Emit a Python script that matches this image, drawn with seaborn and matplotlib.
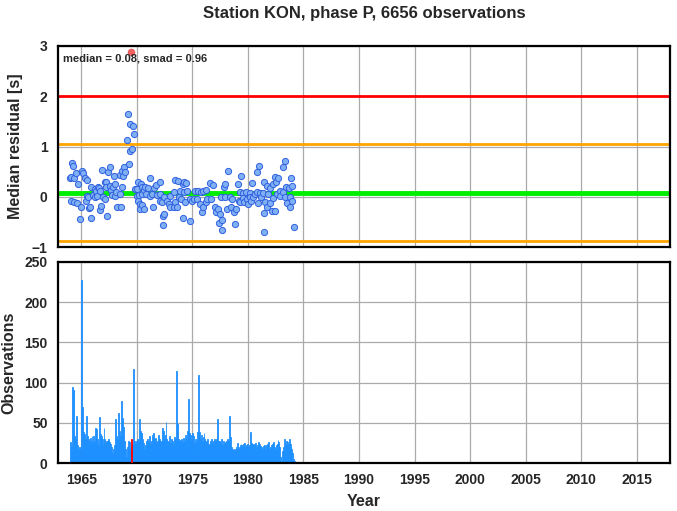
import numpy as np
import pandas as pd
import seaborn as sns
import matplotlib.pyplot as plt

# monthly observation counts, Jan 1964 .. Mar 1984
counts_1964 = [26, 20, 94, 91, 33, 30, 58, 22, 18, 15, 20, 17]
counts_1965 = [228, 70, 38, 36, 30, 59, 33, 30, 28, 31, 25, 33]
counts_1966 = [28, 34, 26, 44, 42, 30, 22, 57, 36, 33, 30, 24]
counts_1967 = [44, 30, 25, 28, 27, 30, 26, 24, 20, 13, 18, 22]
counts_1968 = [55, 33, 28, 30, 62, 40, 34, 77, 56, 45, 27, 18]
counts_1969 = [8, 20, 28, 25, 26, 18, 30, 22, 117, 27, 24, 27]
counts_1970 = [30, 26, 55, 40, 37, 37, 30, 25, 17, 22, 28, 30]
counts_1971 = [26, 33, 24, 28, 35, 37, 20, 30, 31, 25, 28, 35]
counts_1972 = [30, 26, 28, 44, 40, 30, 35, 51, 30, 28, 26, 33]
counts_1973 = [25, 30, 28, 24, 32, 30, 114, 49, 30, 28, 27, 29]
counts_1974 = [30, 26, 31, 28, 35, 30, 40, 79, 37, 35, 30, 28]
counts_1975 = [37, 33, 25, 30, 28, 38, 110, 38, 30, 35, 28, 32]
counts_1976 = [37, 30, 28, 26, 30, 24, 23, 28, 30, 25, 27, 30]
counts_1977 = [28, 26, 30, 55, 28, 27, 25, 30, 22, 27, 24, 26]
counts_1978 = [28, 30, 27, 25, 59, 32, 20, 16, 18, 15, 17, 20]
counts_1979 = [25, 18, 20, 22, 24, 20, 22, 24, 25, 20, 22, 24]
counts_1980 = [20, 22, 39, 25, 24, 22, 20, 24, 25, 20, 22, 26]
counts_1981 = [24, 21, 20, 18, 21, 22, 16, 20, 22, 24, 26, 18]
counts_1982 = [20, 22, 24, 26, 20, 18, 22, 24, 29, 26, 20, 8]
counts_1983 = [0, 15, 20, 30, 22, 28, 26, 24, 30, 24, 15, 18]
counts_1984 = [12, 5, 3]

counts = (counts_1964 + counts_1965 + counts_1966 + counts_1967 + counts_1968 + counts_1969
          + counts_1970 + counts_1971 + counts_1972 + counts_1973 + counts_1974 + counts_1975
          + counts_1976 + counts_1977 + counts_1978 + counts_1979 + counts_1980 + counts_1981
          + counts_1982 + counts_1983 + counts_1984)
month_start = 1964 + np.arange(len(counts)) / 12.0
red_month = 1969.5

# median residuals
res_year = [1963.95, 1964.04, 1964.10, 1964.19, 1964.25, 1964.30, 1964.37, 1964.49, 1964.60, 1964.73,
            1964.85, 1965.00, 1965.03, 1965.15, 1965.36, 1965.45, 1965.48, 1965.54, 1965.60, 1965.70,
            1965.80, 1965.87, 1965.90, 1966.05, 1966.20, 1966.22, 1966.35, 1966.40, 1966.50, 1966.60,
            1966.65, 1966.70, 1966.80, 1966.90, 1966.95, 1967.10, 1967.13, 1967.20, 1967.25, 1967.30,
            1967.40, 1967.55, 1967.60, 1967.70, 1967.72, 1967.85, 1967.95, 1968.00, 1968.02, 1968.15,
            1968.20, 1968.50, 1968.52, 1968.55, 1968.65, 1968.67, 1968.74, 1968.86, 1968.95, 1969.10,
            1969.16, 1969.25, 1969.34, 1969.40, 1969.58, 1969.64, 1969.76, 1969.85, 1970.00, 1970.02,
            1970.06, 1970.08, 1970.15, 1970.24, 1970.30, 1970.36, 1970.45, 1970.47, 1970.50, 1970.60,
            1970.62, 1970.75, 1970.78, 1970.96, 1971.14, 1971.20, 1971.35, 1971.44, 1971.50, 1971.74,
            1971.80, 1972.04, 1972.10, 1972.12, 1972.25, 1972.34, 1972.36, 1972.40, 1972.46, 1972.70,
            1972.85, 1973.00, 1973.02, 1973.30, 1973.32, 1973.45, 1973.47, 1973.60, 1973.66, 1973.75,
            1973.90, 1973.95, 1974.13, 1974.15, 1974.20, 1974.25, 1974.35, 1974.43, 1974.50, 1974.75,
            1974.80, 1974.95, 1975.10, 1975.24, 1975.40, 1975.54, 1975.65, 1975.75, 1975.85, 1975.95,
            1975.99, 1976.20, 1976.23, 1976.30, 1976.60, 1976.65, 1976.83, 1977.05, 1977.15, 1977.30,
            1977.35, 1977.50, 1977.60, 1977.62, 1977.64, 1977.80, 1977.90, 1977.94, 1978.10, 1978.24,
            1978.35, 1978.45, 1978.60, 1978.70, 1978.85, 1978.90, 1979.14, 1979.15, 1979.25, 1979.30,
            1979.40, 1979.55, 1979.57, 1979.60, 1979.85, 1979.90, 1980.00, 1980.15, 1980.20, 1980.30,
            1980.40, 1980.45, 1980.60, 1980.80, 1980.81, 1980.90, 1980.99, 1981.10, 1981.20, 1981.35,
            1981.41, 1981.45, 1981.47, 1981.50, 1981.70, 1981.75, 1981.80, 1981.95, 1982.00, 1982.15,
            1982.25, 1982.28, 1982.40, 1982.45, 1982.50, 1982.65, 1982.70, 1982.85, 1982.90, 1983.15,
            1983.17, 1983.30, 1983.35, 1983.45, 1983.50, 1983.70, 1983.75, 1983.77, 1983.90, 1983.95,
            1984.00, 1984.14]
res_value = [0.37, -0.08, 0.39, 0.67, 0.61, -0.11, 0.37, 0.47, -0.13, 0.25,
             -0.45, -0.21, 0.51, 0.47, 0.37, -0.08, 0.02, 0.34, 0.00, -0.23,
             -0.20, -0.43, 0.19, 0.04, 0.15, -0.01, 0.12, 0.02, 0.20, 0.17,
             0.12, -0.27, -0.18, 0.53, -0.01, 0.29, -0.05, 0.29, 0.20, -0.38,
             0.49, 0.22, 0.60, 0.13, 0.04, 0.20, 0.42, 0.25, 0.02, 0.09,
             -0.20, 0.44, 0.05, -0.20, 0.19, 0.52, 0.42, 0.59, 0.49, 1.12,
             1.64, 0.65, 0.92, 1.44, 0.95, 1.40, 1.24, 0.15, 0.15, 0.02,
             0.29, -0.08, 0.04, -0.15, -0.25, 0.25, 0.20, -0.16, 0.06, 0.13,
             -0.25, 0.20, 0.05, 0.17, 0.37, 0.02, 0.06, -0.21, 0.17, 0.24,
             0.04, 0.29, 0.05, -0.08, -0.11, -0.38, -0.56, -0.01, -0.35, -0.08,
             -0.15, 0.02, -0.21, 0.09, -0.20, 0.33, -0.11, -0.21, 0.32, 0.00,
             0.12, -0.05, 0.25, -0.43, 0.09, 0.29, -0.10, 0.27, 0.11, -0.05,
             -0.48, -0.08, -0.05, 0.12, -0.05, 0.11, -0.15, 0.09, -0.31, -0.20,
             0.12, -0.10, 0.13, -0.05, 0.27, -0.05, 0.24, -0.20, -0.31, -0.25,
             -0.53, -0.35, 0.00, -0.47, -0.67, 0.19, 0.00, 0.25, -0.25, 0.52,
             0.00, -0.20, -0.05, -0.31, -0.55, -0.25, 0.25, -0.08, 0.10, -0.10,
             0.42, 0.08, -0.02, -0.10, 0.10, -0.05, -0.15, 0.08, 0.00, -0.08,
             0.27, 0.00, 0.05, 0.10, 0.49, -0.12, 0.61, 0.08, 0.00, 0.08,
             0.29, -0.33, -0.71, -0.10, 0.22, -0.20, 0.05, 0.17, -0.12, -0.28,
             0.25, -0.02, 0.39, -0.28, 0.29, 0.05, 0.37, 0.12, 0.02, 0.60,
             0.09, 0.71, 0.00, 0.20, -0.12, 0.17, -0.01, -0.20, 0.37, -0.08,
             0.22, -0.60]
outlier_year = [1969.5]
outlier_value = [2.88]

median = 0.08
smad = 0.96
limit = 2.0

sns.set_style("white")
plt.rcParams['font.family'] = ['Liberation Sans', 'DejaVu Sans']
plt.rcParams['font.weight'] = 'bold'

fig = plt.figure(figsize=(6.77, 5.11), dpi=100)
ax1 = fig.add_axes([0.0857, 0.5166, 0.904, 0.3934])
ax2 = fig.add_axes([0.0857, 0.0939, 0.904, 0.3934])

xticks = np.arange(1965, 2016, 5)
for ax in (ax1, ax2):
    ax.set_xlim(1962.9, 2018.0)
    ax.set_xticks(xticks)
    ax.grid(True, color='#aaaaaa', linewidth=0.9)
    ax.set_axisbelow(True)
    for s in ax.spines.values():
        s.set_linewidth(1.6)
        s.set_color('black')
    ax.tick_params(direction='out', length=4, width=1, labelsize=10)

# top panel
ax1.set_ylim(-1, 3)
ax1.set_yticks([-1, 0, 1, 2, 3])
ax1.set_xticklabels([])
ax1.axhline(limit, color='red', lw=2)
ax1.axhline(median + smad, color='orange', lw=2)
ax1.axhline(median - smad, color='orange', lw=2)
ax1.axhline(median, color='#00ee00', lw=3.5)
df_res = pd.DataFrame({'year': res_year, 'res': res_value})
sns.scatterplot(data=df_res, x='year', y='res', ax=ax1, s=20, color='#80b0f4',
                edgecolor='#3060e0', linewidth=0.7, zorder=3)
ax1.scatter(outlier_year, outlier_value, s=20, color='#f06060', zorder=3, clip_on=False)
ax1.text(0.008, 0.965, f"median = {median:.2f}, smad = {smad:.2f}", transform=ax1.transAxes,
         fontsize=8, fontweight='bold', va='top', ha='left')
ax1.set_xlabel('')
ax1.set_ylabel('Median residual [s]', fontsize=11.5, fontweight='bold', labelpad=6)
ax1.set_title('Station KON, phase P, 6656 observations', fontsize=12, fontweight='bold', pad=20)

# bottom panel
counts_arr = np.array(counts)
is_red = np.abs(month_start - red_month) < 1e-6
ax2.bar(month_start[~is_red], counts_arr[~is_red], width=1 / 12.0, align='edge', color='#1e90ff',
        edgecolor='#1e90ff', linewidth=0.6, zorder=2)
ax2.bar(month_start[is_red], counts_arr[is_red], width=1 / 12.0, align='edge', color='red',
        edgecolor='red', linewidth=0.6, zorder=3)
ax2.set_ylim(0, 250)
ax2.set_yticks([0, 50, 100, 150, 200, 250])
ax2.set_xlabel('Year', fontsize=11.5, fontweight='bold', labelpad=5)
ax2.set_ylabel('Observations', fontsize=11.5, fontweight='bold', labelpad=6)

fig.savefig('out.png', dpi=100)
